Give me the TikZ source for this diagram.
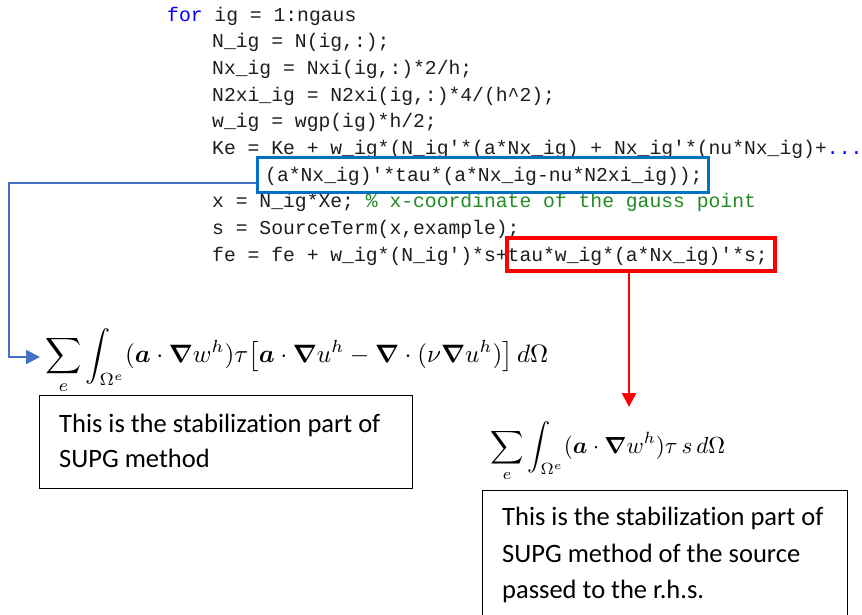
\documentclass[tikz,border=0pt]{standalone}
\usepackage{fontspec}
\usepackage{amsmath,bm}
\setmainfont{Carlito}[Ligatures={TeX,CommonOff}]
\setmonofont{Liberation Mono}
\usetikzlibrary{arrows.meta,fit}
\definecolor{kwblue}{RGB}{0,0,255}
\definecolor{cmtgreen}{RGB}{34,139,34}
\definecolor{boxblue}{RGB}{0,112,192}
\definecolor{connblue}{RGB}{68,114,196}
\definecolor{hired}{RGB}{255,0,0}
\definecolor{codetext}{RGB}{30,30,30}
\tikzset{
  codeline/.style={anchor=base west, inner sep=0pt, text=codetext, font=\fontsize{19.7}{22}\ttfamily},
  notebox/.style={draw=black, line width=1pt, anchor=north west, inner sep=0pt},
  notetext/.style={anchor=base west, inner sep=0pt, font=\fontsize{26.5}{32}\selectfont},
  formula/.style={anchor=west, inner sep=0pt},
  blueconn/.style={draw=connblue, line width=2pt, -{Triangle[length=14pt,width=14pt]}},
  redconn/.style={draw=hired, line width=2.6pt, -{Triangle[length=14pt,width=14pt]}},
}
\begin{document}
\begin{tikzpicture}[x=1pt,y=-1pt]
\useasboundingbox (0,0) rectangle (862,614);
\fill[white] (0,0) rectangle (862,614);
% code
\node[codeline] (l1) at (167,21) {\textcolor{kwblue}{for} ig = 1:ngaus};
\node[codeline] (l2) at (212,47.7) {N\_ig = N(ig,:);};
\node[codeline] (l3) at (212,74.4) {Nx\_ig = Nxi(ig,:)*2/h;};
\node[codeline] (l4) at (212,101.1) {N2xi\_ig = N2xi(ig,:)*4/(h\textasciicircum 2);};
\node[codeline] (l5) at (212,127.8) {w\_ig = wgp(ig)*h/2;};
\node[codeline] (l6) at (212,154.5) {Ke = Ke + w\_ig*(N\_ig'*(a*Nx\_ig) + Nx\_ig'*(nu*Nx\_ig)+\textcolor{kwblue}{...}};
\node[codeline] (l7) at (265,181.2) {(a*Nx\_ig)'*tau*(a*Nx\_ig-nu*N2xi\_ig));};
\node[codeline] (l8) at (212,207.9) {x = N\_ig*Xe; \textcolor{cmtgreen}{\% x-coordinate of the gauss point}};
\node[codeline] (l9) at (212,234.6) {s = SourceTerm(x,example);};
\node[codeline] (l10) at (212,261.3) {fe = fe + w\_ig*(N\_ig')*s+tau*w\_ig*(a*Nx\_ig)'*s;};
% highlight boxes
\node (bluebox) [fit={(257,157) (708,192)}, inner sep=0pt, draw=boxblue, line width=3pt] {};
\node (redbox) [fit={(507,238) (775,271)}, inner sep=0pt, draw=hired, line width=3.5pt] {};
% formulas
\node[formula] (f1) at (45,361) {\resizebox{503pt}{!}{$\displaystyle\sum_e\int_{\Omega^e}(\bm{a}\cdot\bm{\nabla} w^h)\tau\bigl[\bm{a}\cdot\bm{\nabla} u^h-\bm{\nabla}\cdot(\nu\bm{\nabla} u^h)\bigr]\,d\Omega$}};
\node[formula] (f2) at (490,452) {\resizebox{235pt}{!}{$\displaystyle\sum_e\int_{\Omega^e}(\bm{a}\cdot\bm{\nabla} w^h)\tau\,s\,d\Omega$}};
% note boxes
\node[notebox, minimum width=373pt, minimum height=93pt] (n1) at (39,395) {};
\node[notetext] (t1a) at (59,432) {This is the stabilization part of};
\node[notetext] (t1b) at (59,467) {SUPG method};
\node[notebox, minimum width=365pt, minimum height=140pt] (n2) at (482,490) {};
\node[notetext] (t2a) at (502,525) {This is the stabilization part of};
\node[notetext] (t2b) at (502,562) {SUPG method of the source};
\node[notetext] (t2c) at (502,598) {passed to the r.h.s.};
% connectors
\coordinate (bend) at (9,357);
\draw[blueconn] ([yshift=-8.5pt]bluebox.west) -| (bend) -- ([xshift=-5pt,yshift=4pt]f1.west);
\coordinate (redtip) at (629,407);
\draw[redconn] (redbox.south -| redtip) -- (redtip);
\end{tikzpicture}
\end{document}
